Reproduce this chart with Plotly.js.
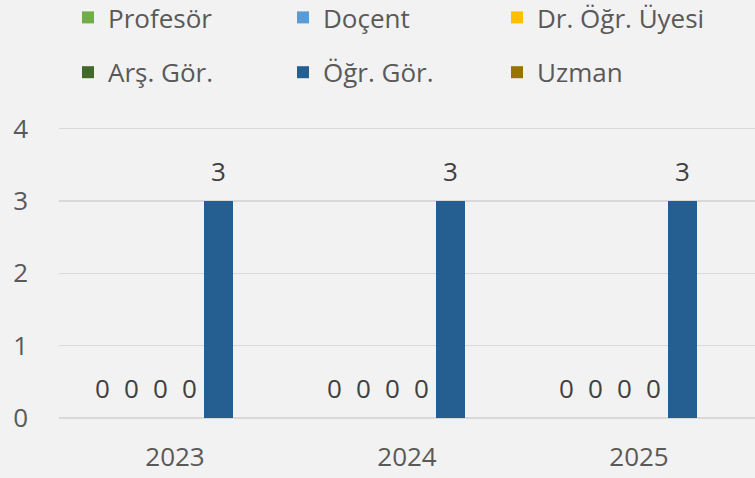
<!DOCTYPE html>
<html>
<head>
<meta charset="utf-8">
<script src="https://cdn.plot.ly/plotly-3.0.1.min.js"></script>
<style>
  html, body { margin: 0; padding: 0; background: #f2f2f2; }
  #chart { width: 755px; height: 478px; }
</style>
</head>
<body>
<div id="chart"></div>
<script>
// Categories
const years = ['2023', '2024', '2025'];

// Series values
const profesor   = [0, 0, 0];
const docent     = [0, 0, 0];
const drOgrUyesi = [0, 0, 0];
const arsGor     = [0, 0, 0];
const ogrGor     = [3, 3, 3];
const uzman      = [null, null, null];

// Series names
const seriesNames = ['Profesör', 'Doçent', 'Dr. Öğr. Üyesi', 'Arş. Gör.', 'Öğr. Gör.', 'Uzman'];
const seriesValues = [profesor, docent, drOgrUyesi, arsGor, ogrGor, uzman];
const seriesColors = ['#70AD47', '#5B9BD5', '#FFC000', '#43682B', '#255E91', '#997300'];
const seriesLegend = ['legend', 'legend2', 'legend3', 'legend', 'legend2', 'legend3'];

const FONT = '"Open Sans", "DejaVu Sans", sans-serif';

const data = seriesNames.map((name, i) => ({
  type: 'bar',
  name: name,
  x: years,
  y: seriesValues[i],
  marker: { color: seriesColors[i] },
  legend: seriesLegend[i],
  legendgroup: 'g' + i,
  texttemplate: "<span style='font-size:26px'>%{y}</span><br>\u00a0",
  textposition: 'outside',
  constraintext: 'none',
  cliponaxis: false,
  textfont: { family: FONT, size: 11, color: '#404040' },
  hoverinfo: 'x+y+name'
}));

const TOP = 125;
const PLOT_H = 478 - 60 - TOP;

const legendBase = {
  orientation: 'v',
  xref: 'container',
  yref: 'paper',
  xanchor: 'left',
  yanchor: 'top',
  y: 1 + (TOP + 6) / PLOT_H,
  tracegroupgap: 18,
  bgcolor: 'rgba(0,0,0,0)',
  borderwidth: 0,
  font: { family: FONT, size: 26, color: '#595959' },
  traceorder: 'grouped'
};

const layout = {
  width: 755,
  height: 478,
  paper_bgcolor: '#f2f2f2',
  plot_bgcolor: 'rgba(0,0,0,0)',
  margin: { l: 59, r: 0, t: TOP, b: 60, autoexpand: false },
  font: { family: FONT, size: 26, color: '#595959' },
  barmode: 'group',
  bargap: 0.25,
  bargroupgap: 0,
  showlegend: true,
  legend:  Object.assign({}, legendBase, { x: 68 / 755 }),
  legend2: Object.assign({}, legendBase, { x: 283 / 755 }),
  legend3: Object.assign({}, legendBase, { x: 497 / 755 }),
  xaxis: {
    type: 'category',
    showgrid: false,
    zeroline: false,
    showline: false,
    ticks: '',
    ticklabelstandoff: 21,
    tickfont: { family: FONT, size: 26, color: '#595959' }
  },
  yaxis: {
    range: [0, 4.05],
    tickvals: [0, 1, 2, 3, 4],
    showgrid: true,
    gridcolor: '#d9d9d9',
    gridwidth: 1.3,
    zeroline: true,
    zerolinecolor: '#d9d9d9',
    zerolinewidth: 1.3,
    showline: false,
    ticks: '',
    ticklabelstandoff: 30,
    tickfont: { family: FONT, size: 26, color: '#595959' }
  }
};

Plotly.newPlot('chart', data, layout, { displayModeBar: false, staticPlot: true });
</script>
</body>
</html>
